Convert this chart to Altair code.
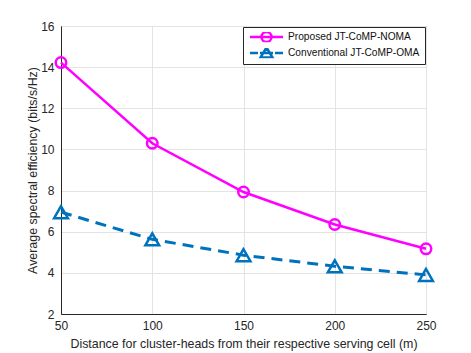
import altair as alt
import pandas as pd

distance = [50, 100, 150, 200, 250]
proposed = [14.22, 10.30, 7.93, 6.35, 5.17]
conventional = [6.95, 5.63, 4.86, 4.32, 3.90]
series_names = ["Proposed JT-CoMP-NOMA", "Conventional JT-CoMP-OMA"]
x_ticks = [50, 100, 150, 200, 250]
y_ticks = [2, 4, 6, 8, 10, 12, 14, 16]

rows = []
for d, v in zip(distance, proposed):
    rows.append({"distance": d, "value": v, "series": series_names[0]})
for d, v in zip(distance, conventional):
    rows.append({"distance": d, "value": v, "series": series_names[1]})
df = pd.DataFrame(rows)

MAG = "#ff00ff"
BLU = "#0072bd"
FONT = "Liberation Sans"

x_enc = alt.X("distance:Q",
              scale=alt.Scale(domain=[50, 250], nice=False),
              axis=alt.Axis(values=x_ticks, title="Distance for cluster-heads from their respective serving cell (m)",
                            labelPadding=6, titlePadding=6, labelFlush=False))
y_enc = alt.Y("value:Q",
              scale=alt.Scale(domain=[2, 16], nice=False),
              axis=alt.Axis(values=y_ticks, title="Average spectral efficiency (bits/s/Hz)",
                            labelPadding=7, titlePadding=1, labelFlush=False))

base = alt.Chart(df).encode(x=x_enc, y=y_enc)

line_p = base.transform_filter(alt.datum.series == series_names[0]).mark_line(
    color=MAG, strokeWidth=2.5)
line_c = base.transform_filter(alt.datum.series == series_names[1]).mark_line(
    color=BLU, strokeWidth=3, strokeDash=[11, 7])
pt_p = base.transform_filter(alt.datum.series == series_names[0]).mark_point(
    shape="circle", filled=False, color=MAG, strokeWidth=2.5, size=110, opacity=1)
pt_c = base.transform_filter(alt.datum.series == series_names[1]).mark_point(
    shape="triangle-up", filled=False, color=BLU, strokeWidth=2.5, size=190, opacity=1)

circle_path = "M-3.3,0H3.3M1,0A1,1,0,1,1,-1,0A1,1,0,1,1,1,0"
tri_path = "M-3.3,0H-1.7M-1.3,0H1.3M1.7,0H3.3M0,-1.1L1.2,0.9L-1.2,0.9Z"

leg = dict(title=None, orient="none", legendX=182, legendY=1,
           symbolOpacity=1, symbolStrokeWidth=2.5, symbolSize=100,
           symbolOffset=12, labelOffset=15, rowPadding=5, clipHeight=10,
           padding=5, strokeColor="#262626", fillColor="white",
           labelFont=FONT, labelFontSize=10.2, labelColor="#111111",
           labelLimit=300)

legend_layer = base.mark_point(filled=False, opacity=0, strokeWidth=2.5).encode(
    shape=alt.Shape("series:N",
                    scale=alt.Scale(domain=series_names, range=[circle_path, tri_path]),
                    legend=alt.Legend(**leg)),
    color=alt.Color("series:N",
                    scale=alt.Scale(domain=series_names, range=[MAG, BLU]),
                    legend=alt.Legend(**leg)),
)

chart = alt.layer(line_p, line_c, pt_p, pt_c, legend_layer).properties(
    width=365, height=288,
    autosize=alt.AutoSizeParams(type="none"),
    padding={"left": 53, "top": 18, "right": 37, "bottom": 40},
).configure_view(
    stroke="#262626", strokeWidth=1
).configure_axis(
    domainColor="#262626", domainWidth=1, ticks=False,
    labelColor="#262626", titleColor="#262626",
    labelFont=FONT, titleFont=FONT, labelFontSize=12, titleFontSize=12.4,
    titleFontWeight="normal", gridColor="#e3e3e3", gridWidth=1,
)

chart.save("out.html", embed_options={"renderer": "svg", "actions": False})
